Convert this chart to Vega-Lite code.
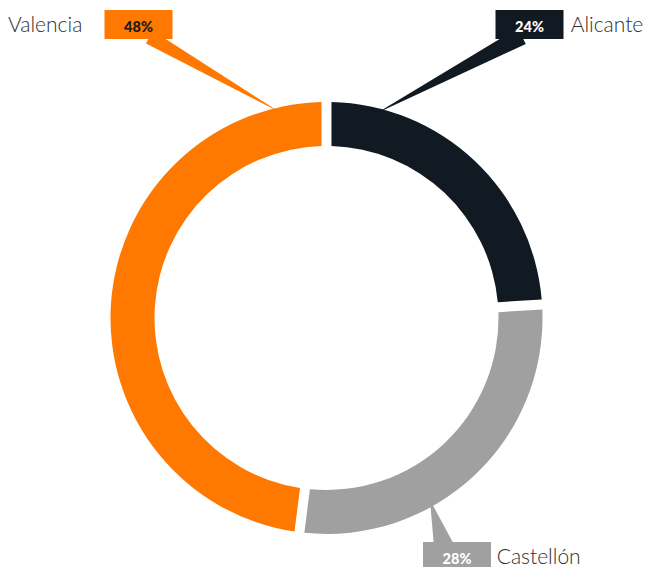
{
  "$schema": "https://vega.github.io/schema/vega-lite/v6.json",
  "width": 653,
  "height": 498,
  "autosize": {"type": "none"},
  "padding": {"top": 69, "left": 0, "right": 0, "bottom": 0},
  "background": "white",
  "config": {"view": {"stroke": null}},
  "data": {
    "values": [
      {"name": "Alicante", "pct": 0.24},
      {"name": "Castellón", "pct": 0.28},
      {"name": "Valencia", "pct": 0.48}
    ]
  },
  "encoding": {
    "color": {
      "field": "name",
      "type": "nominal",
      "scale": {
        "domain": ["Alicante", "Castellón", "Valencia"],
        "range": ["#111a22", "#a0a0a0", "#ff7800"]
      },
      "legend": null
    }
  },
  "layer": [
    {
      "mark": {"type": "arc", "innerRadius": 172, "outerRadius": 216, "padAngle": 0.036},
      "encoding": {
        "theta": {"field": "pct", "type": "quantitative", "stack": true},
        "order": {"field": "name", "type": "ordinal", "sort": "ascending"}
      }
    },
    {
      "transform": [{"filter": "datum.name === 'Valencia'"}],
      "layer": [
        {
          "mark": {"type": "arc", "theta": 5.186, "theta2": 5.282, "innerRadius": 0, "outerRadius": 150, "xOffset": -47, "yOffset": -206},
          "encoding": {}
        },
        {
          "mark": {"type": "point", "shape": "M-1,-0.4265L1,-0.4265L1,0.4265L-1,0.4265Z", "size": 4624, "filled": true, "opacity": 1, "strokeWidth": 0, "xOffset": -188, "yOffset": -293.5},
          "encoding": {}
        },
        {
          "mark": {"type": "text", "font": "Lato", "fontSize": 14.5, "fontWeight": 900, "align": "center", "baseline": "alphabetic", "dx": -188, "dy": -286},
          "encoding": {"text": {"field": "pct", "type": "quantitative", "format": ".0%"}, "color": {"value": "#1a1a1a"}}
        },
        {
          "mark": {"type": "text", "font": "Lato", "fontSize": 21, "fontWeight": 300, "align": "left", "baseline": "alphabetic", "dx": -318.5, "dy": -286},
          "encoding": {"text": {"field": "name", "type": "nominal"}, "color": {"value": "#2e2e2e"}}
        }
      ]
    },
    {
      "transform": [{"filter": "datum.name === 'Alicante'"}],
      "layer": [
        {
          "mark": {"type": "arc", "theta": 1.028, "theta2": 1.136, "innerRadius": 0, "outerRadius": 165, "xOffset": 49.6, "yOffset": -204.6},
          "encoding": {}
        },
        {
          "mark": {"type": "point", "shape": "M-1,-0.4265L1,-0.4265L1,0.4265L-1,0.4265Z", "size": 4624, "filled": true, "opacity": 1, "strokeWidth": 0, "xOffset": 203, "yOffset": -293.5},
          "encoding": {}
        },
        {
          "mark": {"type": "text", "font": "Lato", "fontSize": 14.5, "fontWeight": 900, "align": "center", "baseline": "alphabetic", "dx": 203, "dy": -286},
          "encoding": {"text": {"field": "pct", "type": "quantitative", "format": ".0%"}, "color": {"value": "#ffffff"}}
        },
        {
          "mark": {"type": "text", "font": "Lato", "fontSize": 21, "fontWeight": 300, "align": "left", "baseline": "alphabetic", "dx": 244.2, "dy": -286},
          "encoding": {"text": {"field": "name", "type": "nominal"}, "color": {"value": "#2e2e2e"}}
        }
      ]
    },
    {
      "transform": [{"filter": "datum.name === 'Castellón'"}],
      "layer": [
        {
          "mark": {"type": "arc", "theta": 2.647, "theta2": 3.057, "innerRadius": 0, "outerRadius": 50, "xOffset": 103.5, "yOffset": 182},
          "encoding": {}
        },
        {
          "mark": {"type": "point", "shape": "M-1,-0.4265L1,-0.4265L1,0.4265L-1,0.4265Z", "size": 4624, "filled": true, "opacity": 1, "strokeWidth": 0, "xOffset": 130.5, "yOffset": 238.5},
          "encoding": {}
        },
        {
          "mark": {"type": "text", "font": "Lato", "fontSize": 14.5, "fontWeight": 900, "align": "center", "baseline": "alphabetic", "dx": 130.5, "dy": 246},
          "encoding": {"text": {"field": "pct", "type": "quantitative", "format": ".0%"}, "color": {"value": "#ffffff"}}
        },
        {
          "mark": {"type": "text", "font": "Lato", "fontSize": 21, "fontWeight": 300, "align": "left", "baseline": "alphabetic", "dx": 170.2, "dy": 246},
          "encoding": {"text": {"field": "name", "type": "nominal"}, "color": {"value": "#2e2e2e"}}
        }
      ]
    }
  ]
}
